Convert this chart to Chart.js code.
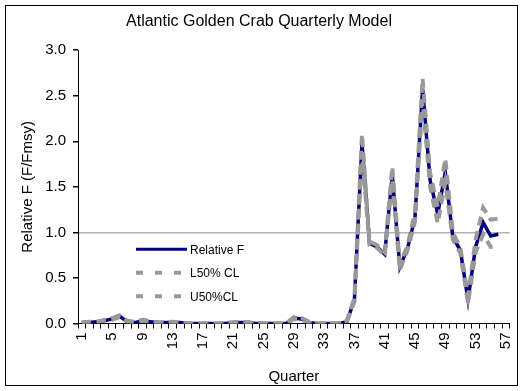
<!DOCTYPE html>
<html>
<head>
<meta charset="utf-8">
<script src="https://cdn.jsdelivr.net/npm/chart.js@4.4.1/dist/chart.umd.min.js"></script>
<style>
  html, body { margin: 0; padding: 0; background: #ffffff; }
  #wrap { width: 528px; height: 391px; position: relative; }
</style>
</head>
<body>
<div id="wrap"><canvas id="c" width="528" height="391"></canvas></div>
<script>
// Quarter index along the category axis
const quarters = ['1','2','3','4','5','6','7','8','9','10','11','12','13','14','15','16','17','18','19','20',
  '21','22','23','24','25','26','27','28','29','30','31','32','33','34','35','36','37','38','39','40',
  '41','42','43','44','45','46','47','48','49','50','51','52','53','54','55','56','57'];

// Relative fishing mortality F/Fmsy
const relativeF = [0.01,0.01,0.02,0.03,0.05,0.08,0.02,0.01,0.03,0.02,
  0.01,0.01,0.01,0.01,0.00,0.00,0.00,0.00,0.00,0.00,
  0.01,0.01,0.01,0.00,0.00,0.00,0.00,0.00,0.06,0.05,
  0.01,0.00,0.00,0.00,0.00,0.02,0.26,1.98,0.88,0.84,
  0.76,1.63,0.62,0.82,1.16,2.58,1.57,1.20,1.66,0.95,
  0.80,0.26,0.84,1.11,0.96,0.98,null];

// Lower 50% confidence limit
const lower50 = [0.01,0.01,0.02,0.03,0.04,0.07,0.02,0.01,0.03,0.02,
  0.01,0.01,0.01,0.01,0.00,0.00,0.00,0.00,0.00,0.00,
  0.01,0.01,0.01,0.00,0.00,0.00,0.00,0.00,0.05,0.04,
  0.01,0.00,0.00,0.00,0.00,0.02,0.24,1.88,0.86,0.83,
  0.75,1.58,0.59,0.80,1.12,2.45,1.50,1.10,1.55,0.92,
  0.77,0.22,0.78,0.98,0.84,0.85,null];

// Upper 50% confidence limit
const upper50 = [0.01,0.02,0.02,0.04,0.06,0.09,0.03,0.02,0.04,0.03,
  0.01,0.01,0.02,0.01,0.00,0.00,0.00,0.00,0.00,0.01,
  0.01,0.02,0.01,0.01,0.00,0.00,0.00,0.00,0.07,0.06,
  0.02,0.00,0.00,0.00,0.00,0.03,0.28,2.08,0.90,0.86,
  0.78,1.72,0.65,0.85,1.22,2.69,1.65,1.28,1.81,1.00,
  0.83,0.30,0.92,1.27,1.14,1.15,null];

// Value axis ticks
const yTicks = [0, 0.5, 1.0, 1.5, 2.0, 2.5, 3.0];
const referenceLevel = 1.0;

const FONT = '"Liberation Sans", Arial, Helvetica, sans-serif';
const NAVY = '#000080';
const GREY = '#999999';

const legendItems = [
  { text: 'Relative F', color: NAVY, dash: [], width: 3 },
  { text: 'L50% CL',    color: GREY, dash: [7, 12], width: 4 },
  { text: 'U50%CL',     color: GREY, dash: [7, 12], width: 4 }
];

// Outer frame and in-plot legend
const decorations = {
  id: 'decorations',
  afterDraw(chart) {
    const ctx = chart.ctx;
    const area = chart.chartArea;
    ctx.save();
    ctx.strokeStyle = '#000000';
    ctx.lineWidth = 1;
    ctx.strokeRect(5.5, 5.5, 512, 380);

    const x0 = area.left + 58;
    let y = area.top + 199;
    ctx.font = '12px ' + FONT;
    ctx.textBaseline = 'middle';
    ctx.textAlign = 'left';
    legendItems.forEach(item => {
      ctx.beginPath();
      ctx.setLineDash(item.dash);
      ctx.lineWidth = item.width;
      ctx.strokeStyle = item.color;
      ctx.moveTo(x0, y);
      ctx.lineTo(x0 + 51, y);
      ctx.stroke();
      ctx.setLineDash([]);
      ctx.fillStyle = '#000000';
      ctx.fillText(item.text, x0 + 54, y + 1);
      y += 23.5;
    });
    ctx.restore();
  }
};

new Chart(document.getElementById('c'), {
  type: 'line',
  data: {
    labels: quarters,
    datasets: [
      { label: 'Relative F', data: relativeF, borderColor: NAVY, borderWidth: 3.5,
        pointRadius: 0, tension: 0, fill: false, order: 3 },
      { label: 'L50% CL', data: lower50, borderColor: GREY, borderWidth: 4, borderDash: [9, 6],
        pointRadius: 0, tension: 0, fill: false, order: 2 },
      { label: 'U50%CL', data: upper50, borderColor: GREY, borderWidth: 4, borderDash: [9, 6],
        pointRadius: 0, tension: 0, fill: false, order: 1 }
    ]
  },
  options: {
    responsive: false,
    animation: false,
    events: [],
    layout: { padding: { left: 6, right: 16, top: 0, bottom: 0 } },
    plugins: {
      legend: { display: false },
      tooltip: { enabled: false },
      title: {
        display: true,
        text: 'Atlantic Golden Crab Quarterly Model',
        color: '#000000',
        font: { family: FONT, size: 16, weight: 'normal' },
        padding: { top: 12, bottom: 19 }
      }
    },
    scales: {
      x: {
        type: 'category',
        offset: true,
        afterFit(scale) { scale.height = 67.5; },
        grid: { offset: true, drawOnChartArea: false, tickLength: 5, color: '#000000', tickColor: '#000000' },
        border: { color: '#000000', width: 1 },
        ticks: {
          autoSkip: false,
          maxRotation: 90,
          minRotation: 90,
          padding: 4,
          color: '#000000',
          font: { family: FONT, size: 15 },
          callback(value, index) { return index % 4 === 0 ? quarters[index] : ''; }
        },
        title: {
          display: true,
          text: 'Quarter',
          color: '#000000',
          font: { family: FONT, size: 15 },
          padding: { top: 0, bottom: 5 }
        }
      },
      y: {
        min: 0,
        max: 3,
        afterFit(scale) { scale.width = 72; },
        afterBuildTicks(scale) { scale.ticks = yTicks.map(v => ({ value: v })); },
        grid: {
          drawOnChartArea: true,
          tickLength: 5,
          tickColor: '#000000',
          lineWidth: 1.5,
          color: ctx => (ctx.tick && ctx.tick.value === referenceLevel ? '#b4b4b4' : 'rgba(0,0,0,0)')
        },
        border: { color: '#000000', width: 1 },
        ticks: {
          padding: 7,
          color: '#000000',
          font: { family: FONT, size: 15 },
          callback(value) { return Number(value).toFixed(1); }
        },
        title: {
          display: true,
          text: 'Relative F (F/Fmsy)',
          color: '#000000',
          font: { family: FONT, size: 15 },
          padding: { top: 13, bottom: 0 }
        }
      }
    }
  },
  plugins: [decorations]
});
</script>
</body>
</html>
